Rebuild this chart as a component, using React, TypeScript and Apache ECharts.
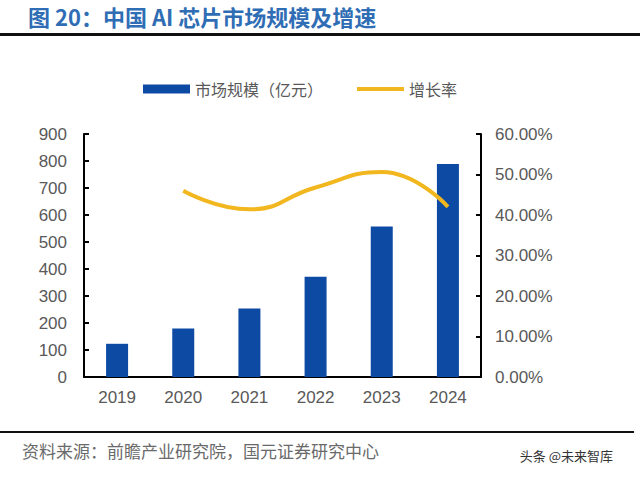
import React, { useEffect, useRef } from "react";
import * as echarts from "echarts";

const categories = ["2019", "2020", "2021", "2022", "2023", "2024"];
const marketSize = [123, 180, 254, 371, 557, 789];
const growthRate: (number | null)[] = [null, 46.0, 41.4, 46.8, 50.6, 42.0];
const leftTicks = [0, 900, 100];
const rightTicks = [0, 60, 10];

const CJK = '"Noto Sans CJK SC", "Noto Sans", sans-serif';
const NUM = '"Liberation Sans", Arial, sans-serif';

export default function App() {
  const ref = useRef<HTMLDivElement>(null);
  useEffect(() => {
    if (!ref.current) return;
    const chart = echarts.init(ref.current, null, { renderer: "svg" });
    chart.setOption({
      animation: false,
      backgroundColor: "#ffffff",
      grid: { left: 84, right: 159, top: 134, bottom: 101 },
      legend: [
        {
          left: 143,
          top: 81,
          padding: 0,
          itemWidth: 47,
          itemHeight: 9,
          textStyle: { fontFamily: CJK, fontSize: 16, color: "#595959" },
          data: [{ name: "市场规模（亿元）", icon: "rect" }],
        },
        {
          left: 357,
          top: 81,
          padding: 0,
          itemWidth: 47,
          itemHeight: 4,
          textStyle: { fontFamily: CJK, fontSize: 16, color: "#595959" },
          data: [{ name: "增长率", icon: "rect" }],
        },
      ],
      xAxis: {
        type: "category",
        data: categories,
        axisLine: { lineStyle: { color: "#000000", width: 2 } },
        axisTick: { inside: true, length: 5, lineStyle: { color: "#000", width: 2 } },
        axisLabel: { fontFamily: NUM, fontSize: 17, color: "#595959", margin: 12 },
      },
      yAxis: [
        {
          type: "value",
          min: leftTicks[0],
          max: leftTicks[1],
          interval: leftTicks[2],
          splitLine: { show: false },
          axisLine: { show: true, lineStyle: { color: "#000", width: 2 } },
          axisTick: { show: true, inside: true, length: 5, lineStyle: { color: "#000", width: 2 } },
          axisLabel: { fontFamily: NUM, fontSize: 17, color: "#595959", margin: 17 },
        },
        {
          type: "value",
          min: rightTicks[0],
          max: rightTicks[1],
          interval: rightTicks[2],
          splitLine: { show: false },
          axisLine: { show: true, lineStyle: { color: "#000", width: 2 } },
          axisTick: { show: true, inside: true, length: 5, lineStyle: { color: "#000", width: 2 } },
          axisLabel: {
            fontFamily: NUM,
            fontSize: 17,
            color: "#595959",
            margin: 14,
            formatter: (v: number) => v.toFixed(2) + "%",
          },
        },
      ],
      series: [
        {
          name: "市场规模（亿元）",
          type: "bar",
          data: marketSize,
          barWidth: 22,
          itemStyle: { color: "#0C4AA3" },
        },
        {
          name: "增长率",
          type: "line",
          yAxisIndex: 1,
          data: growthRate,
          smooth: 0.5,
          symbol: "none",
          lineStyle: { color: "#F2B71E", width: 4 },
          itemStyle: { color: "#F2B71E" },
        },
      ],
      graphic: [
        {
          type: "text",
          left: 28,
          top: 5,
          style: {
            text: "图 20：中国 AI 芯片市场规模及增速",
            fontFamily: CJK,
            fontSize: 22,
            fontWeight: "bold",
            fill: "#2F6DB5",
          },
        },
        {
          type: "rect",
          shape: { x: 0, y: 33, width: 640, height: 3 },
          style: { fill: "#111111" },
        },
        {
          type: "rect",
          shape: { x: 0, y: 431, width: 634, height: 2 },
          style: { fill: "#111111" },
        },
        {
          type: "text",
          left: 22,
          top: 442,
          style: {
            text: "资料来源：前瞻产业研究院，国元证券研究中心",
            fontFamily: CJK,
            fontSize: 17,
            fill: "#6a6a6a",
          },
        },
        {
          type: "text",
          right: 27,
          top: 449,
          style: {
            text: "头条 @未来智库",
            fontFamily: CJK,
            fontSize: 13,
            fill: "#333333",
          },
        },
      ],
    });
    return () => chart.dispose();
  }, []);
  return <div ref={ref} style={{ width: 640, height: 478, position: "absolute", left: 0, top: 0 }} />;
}
